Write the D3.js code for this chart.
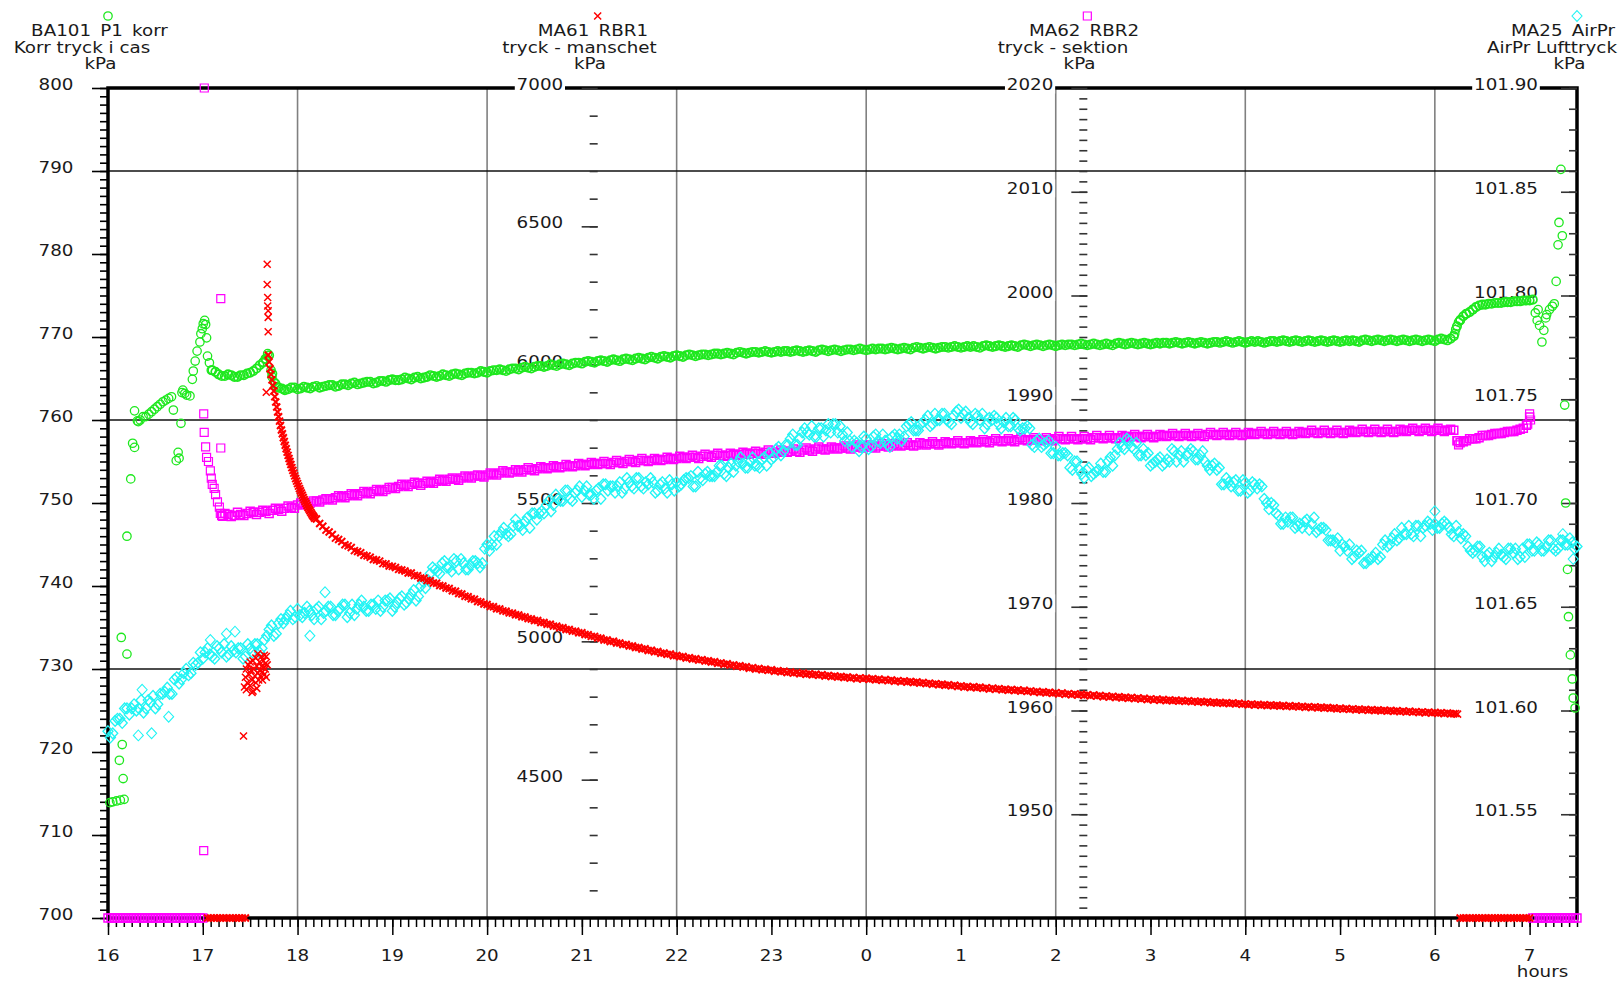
<!DOCTYPE html>
<html><head><meta charset="utf-8">
<script src="https://cdn.jsdelivr.net/npm/d3@7"></script>
<style>
html,body{margin:0;padding:0;background:#fff;}
svg{display:block;}
text{font-family:"DejaVu Sans",Verdana,sans-serif;font-size:15px;fill:#1a1a1a;}
</style></head><body>
<svg id="chart" width="1623" height="982"></svg>
<script>
// ---------------- DATA ----------------
const hourTicks  = [16,17,18,19,20,21,22,23,24,25,26,27,28,29,30,31];
const hourLabels = ["16","17","18","19","20","21","22","23","0","1","2","3","4","5","6","7"];
const gridHours  = [18,20,22,24,26,28,30];
const gridKorr   = [730,760,790];
const korrTicks  = [700,710,720,730,740,750,760,770,780,790,800];
const rbr1Ticks  = [4500,5000,5500,6000,6500,7000];
const rbr2Ticks  = [1950,1960,1970,1980,1990,2000,2010,2020];
const airTicks   = [101.55,101.60,101.65,101.70,101.75,101.80,101.85,101.90];

const headerL1 = ["BA101_P1_korr","MA61_RBR1","MA62_RBR2","MA25_AirPr"];
const headerL2 = ["Korr tryck i cas","tryck - manschet","tryck - sektion","AirPr Lufttryck"];
const headerL3 = ["kPa","kPa","kPa","kPa"];

const BAND_STEP = 2/60;   // logger interval (hours) of the dense bands
const AIR_STEP  = 3/60;

// BA101_P1_korr  (green circles, left axis)
const korrScatter = [
 [16.02,713.9],[16.05,714.0],[16.09,714.1],[16.13,714.2],[16.17,714.3],
 [16.12,719.0],[16.15,720.9],[16.16,716.8],[16.14,733.8],[16.20,731.8],
 [16.20,746.0],[16.24,752.9],[16.26,757.2],[16.28,756.7],[16.28,761.1],
 [16.31,759.9],[16.32,759.8],[16.37,760.4],[16.34,760.0],[16.40,760.4],
 [16.43,760.7],[16.46,761.0],[16.49,761.3],[16.52,761.6],[16.55,761.9],
 [16.58,762.2],[16.61,762.4],[16.64,762.6],[16.67,762.8],[16.69,761.2],
 [16.72,755.1],[16.74,756.1],[16.75,755.4],[16.77,759.6],[16.78,763.3],
 [16.79,763.6],[16.81,763.2],[16.83,763.0],[16.865,762.9],[16.89,764.9],
 [16.90,765.9],[16.92,767.1],[16.94,768.3],[16.97,769.4],[16.98,770.4],
 [16.995,771.0],[17.005,771.6],[17.02,772.0],[17.03,771.5],[17.04,769.9],
 [17.05,767.7],[17.07,766.9],[17.09,766.0],
 [17.64,767.0],[17.66,767.4],[17.685,768.0],[17.72,766.0],[17.73,765.2],[17.75,764.6],[17.78,764.0],[17.85,763.7],
 [30.21,770.4],[30.22,770.9],[30.25,771.8],[30.27,772.1],[30.33,772.8],[30.40,773.3],
 [31.06,772.9],[31.08,772.0],[31.09,773.3],[31.105,771.4],[31.13,769.4],[31.15,770.8],[31.17,772.3],
 [31.18,772.7],[31.21,773.3],[31.24,773.7],[31.26,774.0],[31.28,776.7],[31.30,781.1],[31.31,783.8],
 [31.33,790.2],[31.345,782.2],[31.37,761.8],[31.38,750.0],[31.40,742.0],[31.41,736.3],[31.43,731.7],
 [31.45,728.8],[31.46,726.5],[31.48,725.3]
];
const korrBandStart = 17.10;
const korrBand = [
 766.0,765.8,765.5,765.3,765.3,765.5,765.4,765.2,765.2,765.4,765.4,765.6,765.7,765.9,766.2,766.6,766.9,767.3,767.8,765.6,764.4,763.9,763.8,763.6,763.7,763.9,763.9,763.7,763.8,764.0,
 763.9,763.8,764.0,764.1,763.9,764.0,764.1,764.2,764.2,764.0,764.1,764.3,764.3,764.2,764.4,764.5,764.3,764.4,764.5,764.6,764.6,764.4,764.5,764.7,764.7,764.6,764.8,764.9,764.8,764.8,
 764.9,765.1,765.0,764.9,765.1,765.2,765.0,765.1,765.2,765.4,765.3,765.2,765.3,765.5,765.4,765.3,765.5,765.6,765.5,765.4,765.6,765.7,765.7,765.6,765.7,765.9,765.8,765.7,765.9,766.0,
 766.0,766.1,766.0,765.9,766.1,766.2,766.2,766.1,766.3,766.4,766.3,766.2,766.4,766.5,766.5,766.4,766.5,766.7,766.6,766.5,766.7,766.8,766.7,766.6,766.8,766.9,766.9,766.8,767.0,767.1,
 767.0,766.9,767.1,767.2,767.1,767.0,767.2,767.3,767.2,767.1,767.3,767.4,767.3,767.2,767.4,767.5,767.4,767.3,767.5,767.6,767.5,767.4,767.6,767.7,767.6,767.5,767.7,767.8,767.7,767.6,
 767.8,767.9,767.8,767.7,767.8,767.9,767.9,767.8,767.9,768.0,768.0,767.9,768.0,768.1,768.0,767.9,768.1,768.2,768.1,768.0,768.1,768.2,768.2,768.1,768.2,768.3,768.2,768.1,768.2,768.3,
 768.2,768.3,768.3,768.2,768.3,768.4,768.3,768.2,768.3,768.4,768.3,768.2,768.4,768.5,768.4,768.3,768.4,768.5,768.4,768.3,768.4,768.5,768.5,768.4,768.5,768.6,768.5,768.4,768.5,768.6,
 768.5,768.6,768.6,768.5,768.6,768.7,768.6,768.5,768.6,768.7,768.6,768.5,768.7,768.8,768.7,768.6,768.7,768.8,768.7,768.6,768.7,768.8,768.8,768.7,768.8,768.9,768.8,768.7,768.8,768.9,
 768.8,768.9,768.8,768.7,768.9,769.0,768.9,768.8,768.9,769.0,768.9,768.8,768.9,769.0,768.9,768.8,769.0,769.1,769.0,768.9,769.0,769.1,769.0,768.9,769.0,769.1,769.0,768.9,769.0,769.1,
 769.0,769.1,769.1,769.0,769.1,769.2,769.1,769.0,769.1,769.2,769.1,769.0,769.1,769.2,769.1,769.0,769.2,769.3,769.2,769.1,769.2,769.3,769.2,769.1,769.2,769.3,769.2,769.1,769.2,769.3,
 769.2,769.3,769.3,769.2,769.3,769.4,769.3,769.2,769.3,769.4,769.3,769.2,769.3,769.4,769.3,769.2,769.3,769.4,769.4,769.3,769.4,769.5,769.4,769.3,769.4,769.5,769.4,769.3,769.4,769.5,
 769.4,769.5,769.4,769.3,769.4,769.5,769.5,769.4,769.5,769.6,769.5,769.4,769.5,769.6,769.5,769.4,769.5,769.6,769.5,769.4,769.5,769.6,769.5,769.4,769.5,769.6,769.5,769.4,769.5,769.6,
 769.5,769.6,769.5,769.4,769.6,769.7,769.6,769.5,769.6,769.7,769.6,769.5,769.6,769.7,769.6,769.5,769.6,769.7,769.6,769.5,769.6,769.7,769.6,769.5,769.6,769.7,769.6,769.5,769.7,769.8,
 769.7,769.6,769.8,770.1,771.3,772.0,772.5,772.8,773.0,773.3,773.6,773.8,773.9,773.9,774.0,774.0,774.1,774.1,774.1,774.2,774.2,774.2,774.3,774.3,774.3,774.4,774.4,774.4,774.5
];

// MA61_RBR1  (red crosses)
const manschetScatter = [
 [17.44,4835],[17.45,4870],[17.46,4900],[17.47,4850],[17.48,4915],[17.49,4880],[17.50,4840],[17.50,4925],
 [17.51,4895],[17.52,4860],[17.53,4930],[17.53,4820],[17.54,4900],[17.55,4875],[17.56,4940],[17.56,4850],
 [17.57,4910],[17.58,4885],[17.58,4955],[17.59,4860],[17.60,4925],[17.60,4895],[17.61,4875],[17.62,4945],
 [17.62,4910],[17.63,4890],[17.63,4860],[17.64,4930],[17.64,4905],[17.65,4950],[17.65,4880],[17.66,4920],
 [17.66,4900],[17.67,4945],[17.67,4870],[17.68,4915],[17.57,4830],[17.43,4658],[17.52,4815],[17.46,4825],
 [17.68,6363],[17.68,6290],[17.685,6243],[17.685,6212],[17.69,6195],[17.69,6171],[17.69,6119],[17.67,5900],
 [30.22,4739],[30.24,4737]
];
const manschetFall = [
 [17.69,6035],[17.70,6010],[17.71,5985],[17.72,5965],[17.73,5945],[17.74,5925],[17.75,5905],[17.76,5884],
 [17.77,5865],[17.78,5847],[17.79,5829],[17.80,5812],[17.81,5796],[17.82,5780],[17.83,5764],[17.84,5750],
 [17.85,5736],[17.86,5722],[17.87,5709],[17.88,5696],[17.89,5684],[17.90,5672],[17.91,5661],[17.92,5650],
 [17.93,5639],[17.94,5628],[17.95,5618],[17.96,5608],[17.97,5598],[17.98,5588],[17.99,5579],[18.00,5570],
 [18.01,5561],[18.02,5552],[18.03,5544],[18.04,5536],[18.05,5528],[18.06,5520],[18.07,5512],[18.08,5505],
 [18.09,5498],[18.10,5491],[18.11,5484],[18.12,5478],[18.13,5472],[18.14,5466],[18.15,5460],[18.16,5455],
 [18.17,5450],[18.18,5445]
];
const manschetBandStart = 18.20;
const manschetBand = [
 5442,5426,5416,5402,5395,5386,5373,5368,5361,5349,5345,5339,5328,5325,5320,5311,5309,5304,5296,5294,5290,5281,5280,5272,5271,5267,5260,5258,5254,5247,
 5247,5238,5237,5229,5228,5220,5219,5211,5210,5202,5200,5193,5191,5183,5181,5173,5171,5163,5161,5154,5152,5144,5142,5135,5133,5126,5125,5118,5117,5110,
 5109,5103,5102,5096,5095,5089,5088,5082,5081,5075,5075,5068,5068,5062,5062,5055,5055,5049,5049,5043,5043,5037,5037,5031,5031,5025,5024,5018,5018,5012,
 5011,5005,5005,4999,5000,4994,4994,4988,4989,4983,4983,4978,4978,4972,4973,4967,4968,4962,4963,4957,4958,4953,4954,4948,4949,4944,4945,4940,4941,4936,
 4937,4932,4934,4929,4930,4925,4926,4921,4922,4917,4919,4914,4915,4910,4912,4907,4908,4903,4905,4900,4902,4897,4899,4895,4897,4892,4894,4890,4892,4887,
 4889,4885,4887,4883,4885,4881,4883,4879,4881,4877,4879,4875,4877,4873,4875,4871,4873,4869,4871,4867,4869,4865,4868,4864,4867,4863,4865,4861,4863,4859,
 4862,4858,4860,4856,4858,4854,4857,4853,4855,4851,4853,4849,4851,4847,4849,4845,4847,4843,4845,4841,4843,4839,4841,4837,4839,4835,4837,4833,4836,4832,
 4834,4830,4832,4828,4831,4827,4829,4825,4827,4823,4826,4822,4824,4820,4823,4819,4821,4817,4819,4815,4818,4814,4816,4812,4814,4810,4813,4809,4811,4807,
 4810,4806,4809,4805,4807,4803,4806,4802,4804,4800,4803,4799,4801,4797,4800,4796,4798,4794,4797,4793,4795,4791,4794,4790,4792,4788,4791,4787,4790,4786,
 4788,4785,4787,4784,4786,4783,4785,4782,4784,4781,4783,4780,4782,4778,4780,4777,4779,4776,4778,4775,4777,4774,4776,4772,4774,4771,4773,4770,4772,4769,
 4771,4768,4770,4767,4769,4766,4768,4765,4767,4764,4766,4763,4765,4762,4764,4761,4763,4760,4762,4759,4761,4758,4759,4756,4758,4755,4757,4754,4756,4753,
 4755,4752,4754,4751,4753,4750,4752,4749,4751,4748,4750,4747,4749,4746,4748,4745,4747,4744,4746,4743,4745,4742,4744,4741,4743,4740,4742,4739,4741,4738,
 4738
];
const manschetLowAStart = 17.05;
const manschetLowA = [101.3,101.3,101.3,101.3,101.3,101.3,101.3,101.3,101.3,101.3,101.3,101.3,101.3];
const manschetLowBStart = 30.267;
const manschetLowB = [101.3,101.3,101.3,101.3,101.3,101.3,101.3,101.3,101.3,101.3,101.3,101.3,
                      101.3,101.3,101.3,101.3,101.3,101.3,101.3,101.3,101.3,101.3,101.3];

// MA62_RBR2  (magenta squares)
const sektionScatter = [
 [17.016,2021],[17.19,1999.7],[17.01,1946.5],[17.01,1988.6],[17.015,1986.8],[17.03,1985.4],[17.04,1984.4],
 [17.06,1984.0],[17.08,1983.1],[17.09,1982.4],[17.10,1981.8],[17.12,1981.4],[17.135,1980.8],[17.155,1980.1],
 [17.175,1979.6],[17.19,1985.3],[17.185,1979.0],[17.21,1978.7],
 [30.24,1986.0],[30.25,1985.6],[30.98,1987.6],[31.0,1988.6],[31.01,1988.0]
];
const sektionBandStart = 17.20;
const sektionBand = [
 1978.8,1979.0,1978.9,1978.7,1978.8,1979.1,1978.9,1978.8,1979.0,1979.2,1979.1,1978.9,1979.1,1979.3,1979.2,1979.0,1979.3,1979.5,1979.4,1979.2,1979.5,1979.7,1979.6,1979.5,1979.8,1980.0,1979.9,1979.8,1980.0,1980.2,
 1980.2,1980.1,1980.3,1980.4,1980.4,1980.3,1980.5,1980.7,1980.6,1980.5,1980.7,1980.9,1980.8,1980.7,1980.9,1981.1,1981.0,1980.9,1981.1,1981.3,1981.2,1981.1,1981.3,1981.5,1981.5,1981.4,1981.6,1981.8,1981.7,1981.6,
 1981.8,1982.0,1981.9,1981.7,1981.9,1982.1,1982.0,1981.9,1982.1,1982.3,1982.2,1982.1,1982.3,1982.4,1982.3,1982.2,1982.4,1982.6,1982.5,1982.4,1982.6,1982.7,1982.6,1982.5,1982.7,1982.9,1982.8,1982.7,1982.9,1983.1,
 1983.0,1982.9,1983.0,1983.2,1983.1,1983.0,1983.2,1983.4,1983.2,1983.1,1983.3,1983.5,1983.4,1983.3,1983.4,1983.6,1983.5,1983.4,1983.5,1983.7,1983.6,1983.5,1983.6,1983.8,1983.7,1983.6,1983.7,1983.9,1983.8,1983.7,
 1983.8,1984.0,1983.8,1983.7,1983.9,1984.1,1983.9,1983.8,1984.0,1984.2,1984.0,1983.9,1984.1,1984.3,1984.1,1984.0,1984.1,1984.3,1984.2,1984.1,1984.2,1984.4,1984.3,1984.2,1984.3,1984.5,1984.4,1984.3,1984.4,1984.6,
 1984.4,1984.3,1984.5,1984.7,1984.5,1984.4,1984.6,1984.8,1984.6,1984.5,1984.6,1984.8,1984.7,1984.6,1984.7,1984.9,1984.8,1984.7,1984.8,1985.0,1984.8,1984.7,1984.9,1985.1,1984.9,1984.8,1984.9,1985.1,1985.0,1984.9,
 1985.0,1985.2,1985.0,1984.9,1985.1,1985.3,1985.1,1985.0,1985.2,1985.4,1985.2,1985.1,1985.2,1985.4,1985.3,1985.2,1985.3,1985.5,1985.3,1985.2,1985.4,1985.6,1985.4,1985.3,1985.4,1985.6,1985.4,1985.3,1985.5,1985.7,
 1985.5,1985.4,1985.5,1985.7,1985.6,1985.5,1985.6,1985.8,1985.6,1985.5,1985.6,1985.8,1985.7,1985.6,1985.7,1985.9,1985.7,1985.6,1985.7,1985.9,1985.8,1985.7,1985.8,1986.0,1985.8,1985.7,1985.8,1986.0,1985.9,1985.8,
 1985.9,1986.1,1985.9,1985.8,1986.0,1986.2,1986.0,1985.9,1986.0,1986.2,1986.0,1985.9,1986.1,1986.3,1986.1,1986.0,1986.1,1986.3,1986.1,1986.0,1986.1,1986.3,1986.1,1986.0,1986.2,1986.4,1986.2,1986.1,1986.2,1986.4,
 1986.2,1986.1,1986.2,1986.4,1986.2,1986.1,1986.3,1986.5,1986.3,1986.2,1986.3,1986.5,1986.3,1986.2,1986.3,1986.5,1986.4,1986.3,1986.4,1986.6,1986.4,1986.3,1986.4,1986.6,1986.4,1986.3,1986.4,1986.6,1986.5,1986.4,
 1986.5,1986.7,1986.5,1986.4,1986.5,1986.7,1986.5,1986.4,1986.5,1986.7,1986.5,1986.4,1986.6,1986.8,1986.6,1986.5,1986.6,1986.8,1986.6,1986.5,1986.6,1986.8,1986.6,1986.5,1986.6,1986.8,1986.7,1986.6,1986.7,1986.9,
 1986.7,1986.6,1986.7,1986.9,1986.7,1986.6,1986.7,1986.9,1986.7,1986.6,1986.7,1986.9,1986.8,1986.7,1986.8,1987.0,1986.8,1986.7,1986.8,1987.0,1986.8,1986.7,1986.8,1987.0,1986.8,1986.7,1986.8,1987.0,1986.9,1986.8,
 1986.9,1987.1,1986.9,1986.8,1986.9,1987.1,1986.9,1986.8,1986.9,1987.1,1986.9,1986.8,1986.9,1987.1,1987.0,1986.9,1987.0,1987.2,1987.0,1986.9,1987.0,1987.2,1987.0,1986.9,1987.0,1987.2,1987.0,1986.9,1987.0,1987.1,
 1987.0,1986.0,1985.8,1985.9,1986.0,1986.2,1986.2,1986.2,1986.3,1986.5,1986.5,1986.5,1986.6,1986.7,1986.7,1986.7,1986.8,1986.9,1986.9,1986.9,1987.0,1987.1,1987.2,1987.5,1988.3
];
const sektionLowAStart = 16.00;
const sektionLowA = [101.3,101.3,101.3,101.3,101.3,101.3,101.3,101.3,101.3,101.3,101.3,101.3,101.3,101.3,101.3,101.3,
                     101.3,101.3,101.3,101.3,101.3,101.3,101.3,101.3,101.3,101.3,101.3,101.3,101.3,101.3,101.3];
const sektionLowBStart = 31.033;
const sektionLowB = [101.3,101.3,101.3,101.3,101.3,101.3,101.3,101.3,101.3,101.3,101.3,101.3,101.3,101.3,101.3];

// MA25_AirPr  (cyan diamonds) – two interleaved sample sets
const airStart = 16.00;
const airBand = [
 101.590,101.589,101.596,101.594,101.601,101.601,101.600,101.605,101.601,101.604,101.601,101.608,101.609,101.608,101.615,101.613,101.618,101.617,101.623,101.623,
 101.625,101.630,101.626,101.631,101.628,101.626,101.631,101.628,101.630,101.626,101.630,101.632,101.628,101.634,101.639,101.636,101.642,101.642,101.646,101.644,
 101.649,101.645,101.650,101.646,101.649,101.644,101.648,101.650,101.646,101.649,101.651,101.647,101.646,101.651,101.650,101.648,101.651,101.653,101.650,101.653,
 101.648,101.652,101.655,101.652,101.656,101.653,101.660,101.659,101.666,101.668,101.666,101.672,101.669,101.673,101.668,101.671,101.668,101.672,101.671,101.671,
 101.680,101.680,101.680,101.686,101.685,101.685,101.692,101.689,101.691,101.688,101.695,101.695,101.695,101.701,101.699,101.702,101.701,101.706,101.701,101.706,
 101.703,101.708,101.704,101.706,101.702,101.709,101.708,101.705,101.710,101.707,101.710,101.707,101.712,101.707,101.709,101.710,101.706,101.710,101.705,101.709,
 101.710,101.709,101.712,101.713,101.708,101.712,101.714,101.713,101.713,101.718,101.714,101.717,101.715,101.720,101.719,101.717,101.722,101.718,101.721,101.718,
 101.721,101.726,101.723,101.728,101.731,101.728,101.731,101.736,101.733,101.732,101.736,101.732,101.738,101.738,101.734,101.733,101.734,101.727,101.729,101.727,
 101.731,101.727,101.733,101.729,101.730,101.727,101.733,101.733,101.732,101.738,101.735,101.735,101.739,101.742,101.738,101.740,101.743,101.740,101.738,101.744,
 101.741,101.744,101.739,101.743,101.740,101.736,101.741,101.742,101.738,101.739,101.737,101.741,101.736,101.736,101.737,101.728,101.730,101.727,101.729,101.724,
 101.727,101.723,101.724,101.717,101.720,101.716,101.712,101.717,101.714,101.716,101.715,101.720,101.718,101.726,101.727,101.731,101.727,101.729,101.723,101.723,
 101.718,101.720,101.722,101.719,101.720,101.725,101.723,101.720,101.724,101.725,101.721,101.725,101.718,101.718,101.716,101.709,101.712,101.708,101.711,101.706,
 101.710,101.706,101.709,101.709,101.702,101.697,101.699,101.694,101.690,101.691,101.693,101.689,101.688,101.692,101.690,101.686,101.688,101.687,101.682,101.681,
 101.677,101.679,101.680,101.674,101.676,101.671,101.673,101.674,101.673,101.680,101.679,101.683,101.682,101.688,101.685,101.685,101.689,101.684,101.689,101.690,
 101.690,101.688,101.691,101.688,101.684,101.686,101.685,101.679,101.676,101.679,101.674,101.675,101.672,101.676,101.675,101.673,101.678,101.678,101.674,101.674,
 101.680,101.677,101.680,101.677,101.682,101.678,101.678,101.682,101.680,101.681,101.679
];
const airMidStart = 16.025;
const airBandMid = [
 101.587,101.595,101.596,101.601,101.598,101.603,101.601,101.599,101.605,101.607,101.603,101.608,101.611,101.608,101.616,101.615,101.620,101.618,101.622,101.628,
 101.628,101.627,101.625,101.630,101.632,101.627,101.629,101.630,101.625,101.632,101.628,101.632,101.630,101.636,101.641,101.637,101.644,101.644,101.648,101.645,
 101.646,101.647,101.648,101.644,101.650,101.647,101.650,101.646,101.648,101.651,101.645,101.651,101.649,101.653,101.648,101.651,101.649,101.648,101.653,101.654,
 101.650,101.654,101.651,101.654,101.658,101.655,101.662,101.663,101.669,101.667,101.671,101.669,101.667,101.672,101.673,101.668,101.670,101.672,101.669,101.678,
 101.677,101.684,101.684,101.688,101.684,101.689,101.689,101.687,101.693,101.695,101.692,101.696,101.699,101.696,101.704,101.701,101.706,101.702,101.705,101.708,
 101.706,101.704,101.702,101.707,101.709,101.706,101.708,101.708,101.705,101.712,101.708,101.712,101.708,101.710,101.712,101.705,101.709,101.707,101.711,101.706,
 101.708,101.711,101.712,101.708,101.715,101.711,101.715,101.713,101.715,101.718,101.713,101.719,101.718,101.722,101.717,101.720,101.718,101.717,101.722,101.724,
 101.722,101.727,101.725,101.728,101.733,101.728,101.734,101.734,101.737,101.732,101.736,101.735,101.734,101.738,101.737,101.730,101.730,101.730,101.725,101.732,
 101.726,101.732,101.730,101.733,101.728,101.732,101.731,101.730,101.737,101.739,101.735,101.738,101.740,101.737,101.743,101.740,101.743,101.739,101.742,101.745,
 101.743,101.741,101.738,101.742,101.743,101.738,101.740,101.741,101.736,101.741,101.737,101.740,101.735,101.736,101.736,101.727,101.731,101.728,101.730,101.724,
 101.723,101.724,101.723,101.716,101.720,101.714,101.716,101.713,101.715,101.719,101.715,101.722,101.723,101.729,101.726,101.730,101.726,101.723,101.726,101.724,
 101.719,101.721,101.718,101.721,101.726,101.720,101.725,101.723,101.726,101.721,101.723,101.720,101.716,101.719,101.717,101.709,101.710,101.710,101.706,101.711,
 101.705,101.710,101.707,101.708,101.700,101.700,101.695,101.690,101.693,101.693,101.688,101.690,101.691,101.687,101.693,101.687,101.688,101.682,101.682,101.683,
 101.680,101.677,101.673,101.677,101.677,101.671,101.673,101.676,101.674,101.682,101.680,101.685,101.683,101.685,101.689,101.684,101.689,101.688,101.691,101.687,
 101.688,101.690,101.690,101.685,101.689,101.683,101.684,101.677,101.677,101.679,101.672,101.676,101.674,101.678,101.674,101.678,101.676,101.673,101.678,101.680,
 101.677,101.681,101.677,101.679,101.682,101.677,101.682,101.680,101.683,101.678
];
const airScatter = [
 [16.32,101.588],[16.46,101.589],[16.36,101.610],[16.64,101.597],[17.08,101.634],[17.25,101.637],
 [17.34,101.638],[18.13,101.636],[18.29,101.657],[30.00,101.696],[31.35,101.685],[31.46,101.673]
];

// ---------------- LAYOUT ----------------
const M = {left:108, right:1577, top:88, bottom:918};
const SX = 1.22;                          // the original font is horizontally stretched
const AX = [0,1,2,3].map(k => M.left + k*(M.right-M.left)/3);

const x  = d3.scaleLinear().domain([16,31.5]).range([M.left,M.right]);
const yK = d3.scaleLinear().domain([700,800]).range([M.bottom,M.top]).clamp(true);
const yR = d3.scaleLinear().domain([4000,7000]).range([M.bottom,M.top]).clamp(true);
const yS = d3.scaleLinear().domain([1940,2020]).range([M.bottom,M.top]).clamp(true);
const yA = d3.scaleLinear().domain([101.5,101.9]).range([M.bottom,M.top]).clamp(true);

const COL = {korr:"#1ee81e", rbr1:"#ff0000", rbr2:"#ff00ff", air:"#22f4f4"};
const SYM = {
  circle:  "M4.2,0A4.2,4.2 0 1,1 -4.2,0A4.2,4.2 0 1,1 4.2,0Z",
  times:   "M-3.5,-3.5L3.5,3.5M-3.5,3.5L3.5,-3.5",
  square:  "M-4,-4H4V4H-4Z",
  diamond: "M0,-5.4L5,0L0,5.4L-5,0Z"
};

const svg = d3.select("#chart");
svg.append("rect").attr("width",1623).attr("height",982).attr("fill","#fff");

function stretchedText(parent, str, px, py, anchor, bg, bgTop){
  const g = parent.append("g").attr("transform",`translate(${px},${py}) scale(${SX},1)`);
  const r = bg ? g.append("rect").attr("fill","#fff") : null;
  const t = g.append("text").attr("text-anchor",anchor).text(str);
  if (bg){
    const b = t.node().getBBox();
    const top = bgTop !== undefined ? Math.min(b.y, bgTop) : b.y;
    r.attr("x",b.x-1.5).attr("y",top).attr("width",b.width+3).attr("height",b.y+b.height-top);
  }
  return g;
}

// grid
const grid = svg.append("g");
grid.selectAll("line.v").data(gridHours).join("line").attr("class","v")
  .attr("x1",d=>x(d)).attr("x2",d=>x(d)).attr("y1",M.top).attr("y2",M.bottom)
  .attr("stroke","#808080").attr("stroke-width",1.6);
grid.selectAll("line.h").data(gridKorr).join("line").attr("class","h")
  .attr("x1",M.left).attr("x2",M.right).attr("y1",d=>yK(d)).attr("y2",d=>yK(d))
  .attr("stroke","#111").attr("stroke-width",1.3);

// frame
svg.append("rect").attr("x",M.left).attr("y",M.top).attr("width",M.right-M.left).attr("height",M.bottom-M.top)
  .attr("fill","none").attr("stroke","#000").attr("stroke-width",3.5);

// y axes ticks
function yTicks(scale, ax, minor, major, color){
  [[minor,8],[major,16]].forEach(([vals,len])=>{
    const g = svg.append("g").attr("transform",`translate(${ax},0)`)
      .call(d3.axisLeft(scale).tickValues(vals).tickSize(len).tickFormat(()=>""));
    g.select(".domain").remove();
    g.selectAll(".tick line").attr("stroke",color).attr("stroke-width",1.6);
    g.selectAll(".tick text").remove();
  });
}
yTicks(yK, AX[0], d3.range(700,800.5,1), korrTicks, "#000");
yTicks(yR, AX[1], d3.range(4100,7000,100), rbr1Ticks, "#333");
yTicks(yS, AX[2], d3.range(1941,2020,1), rbr2Ticks, "#333");
yTicks(yA, AX[3], d3.range(101.51,101.9,0.01), airTicks, "#333");

// x axis ticks
[[d3.range(16,31.5001,1/12),9],[hourTicks,17]].forEach(([vals,len])=>{
  const g = svg.append("g").attr("transform",`translate(0,${M.bottom})`)
    .call(d3.axisBottom(x).tickValues(vals).tickSize(len).tickFormat(()=>""));
  g.select(".domain").remove();
  g.selectAll(".tick line").attr("stroke","#000").attr("stroke-width",1.5);
  g.selectAll(".tick text").remove();
});

// tick labels
const lab = svg.append("g");
korrTicks.forEach(v => stretchedText(lab, d3.format("d")(v), AX[0]-34.5, yK(v)+2, "end", false));
rbr1Ticks.forEach(v => stretchedText(lab, d3.format("d")(v), AX[1]-34.5, yR(v)+2, "end", true));
rbr2Ticks.forEach(v => stretchedText(lab, d3.format("d")(v), AX[2]-34, yS(v)+2, "end", true));
airTicks.forEach(v => stretchedText(lab, d3.format(".2f")(v), AX[3]-39, yA(v)+2, "end", true));
hourTicks.forEach((h,i) => stretchedText(lab, hourLabels[i], x(h), M.bottom+43, "middle", false));
stretchedText(lab, "hours", M.right-34.5, M.bottom+59, "middle", false);

// headers
const L1dx = [-8.5,-4.7,-3.3,-14], L2dx = [-26,-18.2,-24.3,-25], L3dx = [-7.5,-7.7,-7.8,-7.5];
const hdr = svg.append("g");
AX.forEach((ax,k)=>{
  stretchedText(hdr, headerL1[k], ax+L1dx[k], 36, "middle", false);
  stretchedText(hdr, headerL2[k], ax+L2dx[k], 52.5, "middle", true, -15.8);
  stretchedText(hdr, headerL3[k], ax+L3dx[k], 68.5, "middle", true);
});
const hdrSym = [["circle",COL.korr,1.3],["times",COL.rbr1,1.5],["square",COL.rbr2,1.2],["diamond",COL.air,1.1]];
AX.forEach((ax,k)=>{
  hdr.append("path").attr("transform",`translate(${ax},16)`).attr("d",SYM[hdrSym[k][0]])
    .attr("fill","none").attr("stroke",hdrSym[k][1]).attr("stroke-width",hdrSym[k][2]);
});

// ---------------- MARKS ----------------
const band = (start, step, vals) => vals.map((v,i)=>[start+i*step, v]);

const data = svg.append("g");
function marks(pts, yScale, sym, color, w){
  data.append("g").selectAll("path").data(pts).join("path")
    .attr("transform", d=>`translate(${x(d[0]).toFixed(2)},${yScale(d[1]).toFixed(2)})`)
    .attr("d", SYM[sym]).attr("fill","none").attr("stroke",color).attr("stroke-width",w);
}
// MA62_RBR2
marks(band(sektionLowAStart,BAND_STEP,sektionLowA).concat(band(sektionLowBStart,BAND_STEP,sektionLowB)), yS, "square", COL.rbr2, 1.5);
marks(band(sektionBandStart,BAND_STEP,sektionBand), yS, "square", COL.rbr2, 1.5);
marks(sektionScatter, yS, "square", COL.rbr2, 1.2);
// MA25_AirPr
marks(band(airStart,AIR_STEP,airBand).concat(band(airMidStart,AIR_STEP,airBandMid)), yA, "diamond", COL.air, 1.35);
marks(airScatter, yA, "diamond", COL.air, 1.1);
// BA101_P1_korr
marks(band(korrBandStart,BAND_STEP,korrBand), yK, "circle", COL.korr, 1.7);
marks(korrScatter, yK, "circle", COL.korr, 1.3);
// MA61_RBR1
marks(band(manschetLowAStart,BAND_STEP,manschetLowA).concat(band(manschetLowBStart,BAND_STEP,manschetLowB)), yR, "times", COL.rbr1, 2);
marks(manschetFall.concat(band(manschetBandStart,BAND_STEP,manschetBand)), yR, "times", COL.rbr1, 2);
marks(manschetScatter, yR, "times", COL.rbr1, 1.5);
</script>
</body></html>
